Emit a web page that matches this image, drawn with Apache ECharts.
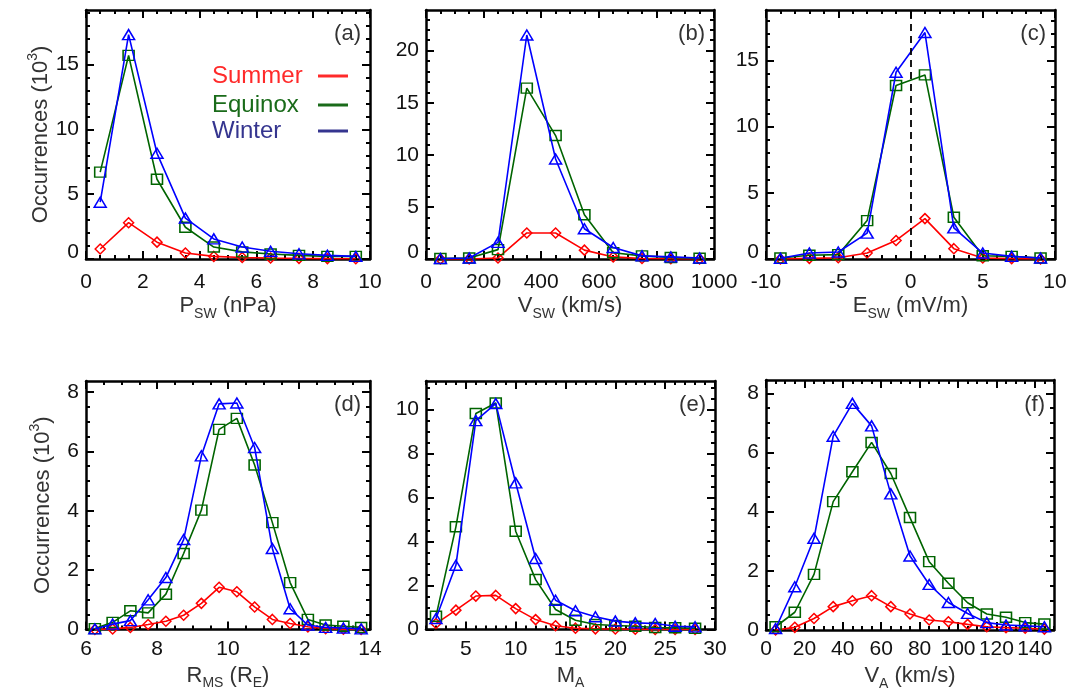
<!DOCTYPE html>
<html><head><meta charset="utf-8">
<script src="https://cdn.jsdelivr.net/npm/echarts@6/dist/echarts.min.js"></script>
<style>html,body{margin:0;padding:0;background:#fff}#c{width:1081px;height:696px}</style>
</head><body><div id="c"></div>
<script>
// ---------------- DATA ----------------
const seriesNames = ['Summer', 'Equinox', 'Winter'];

const pswX = [0.5, 1.5, 2.5, 3.5, 4.5, 5.5, 6.5, 7.5, 8.5, 9.5];
const pswSummer  = [0.77, 2.8, 1.3, 0.46, 0.2, 0.12, 0.08, 0.05, 0.03, 0.02];
const pswEquinox = [6.7, 15.7, 6.15, 2.45, 0.92, 0.55, 0.38, 0.28, 0.2, 0.2];
const pswWinter  = [4.38, 17.3, 8.15, 3.15, 1.55, 0.92, 0.6, 0.4, 0.28, 0.2];

const vswX = [50, 150, 250, 350, 450, 550, 650, 750, 850, 950];
const vswSummer  = [0, 0, 0.1, 2.5, 2.5, 0.85, 0.2, 0.05, 0.02, 0];
const vswEquinox = [0.05, 0.1, 0.9, 16.4, 11.85, 4.25, 0.6, 0.3, 0.15, 0.08];
const vswWinter  = [0.05, 0.1, 1.6, 21.5, 9.6, 2.9, 1.1, 0.3, 0.2, 0.1];

const eswX = [-9, -7, -5, -3, -1, 1, 3, 5, 7, 9];
const eswSummer  = [0, 0.05, 0.1, 0.45, 1.4, 3.05, 0.78, 0.08, 0.03, 0];
const eswEquinox = [0.08, 0.28, 0.33, 2.9, 13.1, 13.9, 3.15, 0.25, 0.2, 0.08];
const eswWinter  = [0.05, 0.45, 0.53, 1.95, 14.1, 17.1, 2.35, 0.45, 0.2, 0.08];

const rmsX = [6.25, 6.75, 7.25, 7.75, 8.25, 8.75, 9.25, 9.75, 10.25, 10.75, 11.25, 11.75, 12.25, 12.75, 13.25, 13.75];
const rmsSummer  = [0, 0.02, 0.07, 0.17, 0.28, 0.48, 0.88, 1.42, 1.27, 0.76, 0.34, 0.2, 0.09, 0.03, 0.01, 0];
const rmsEquinox = [0.03, 0.24, 0.63, 0.56, 1.19, 2.56, 4.02, 6.74, 7.11, 5.54, 3.6, 1.58, 0.34, 0.15, 0.11, 0.07];
const rmsWinter  = [0.02, 0.18, 0.3, 1.0, 1.75, 3.03, 5.85, 7.6, 7.63, 6.13, 2.73, 0.7, 0.15, 0.07, 0.05, 0.02];

const maX = [2, 4, 6, 8, 10, 12, 14, 16, 18, 20, 22, 24, 26, 28];
const maSummer  = [0.27, 0.88, 1.52, 1.55, 0.95, 0.45, 0.17, 0.06, 0.03, 0.02, 0.01, 0, 0, 0];
const maEquinox = [0.6, 4.67, 9.82, 10.3, 4.47, 2.27, 0.91, 0.42, 0.23, 0.18, 0.15, 0.09, 0.08, 0.06];
const maWinter  = [0.5, 2.92, 9.5, 10.27, 6.67, 3.23, 1.33, 0.85, 0.58, 0.38, 0.3, 0.27, 0.15, 0.12];

const vaX = [5, 15, 25, 35, 45, 55, 65, 75, 85, 95, 105, 115, 125, 135, 145];
const vaSummer  = [0, 0.09, 0.39, 0.79, 0.99, 1.16, 0.79, 0.54, 0.34, 0.28, 0.19, 0.11, 0.08, 0.06, 0.03];
const vaEquinox = [0.11, 0.6, 1.88, 4.34, 5.35, 6.34, 5.29, 3.8, 2.31, 1.58, 0.92, 0.54, 0.43, 0.25, 0.2];
const vaWinter  = [0.05, 1.46, 3.1, 6.55, 7.66, 6.9, 4.6, 2.5, 1.54, 0.93, 0.56, 0.25, 0.17, 0.14, 0.11];

// tick labels
const pswTicks = [0, 2, 4, 6, 8, 10];
const vswTicks = [0, 200, 400, 600, 800, 1000];
const eswTicks = [-10, -5, 0, 5, 10];
const rmsTicks = [6, 8, 10, 12, 14];
const maTicks  = [5, 10, 15, 20, 25, 30];
const vaTicks  = [0, 20, 40, 60, 80, 100, 120, 140];
const occTicksTop = [0, 5, 10, 15];
const occTicksB   = [0, 5, 10, 15, 20];
const occTicksBot = [0, 2, 4, 6, 8];
const occTicksE   = [0, 2, 4, 6, 8, 10];

// ---------------- LAYOUT / STYLE ----------------
const FONT = '"Liberation Sans", Arial, Helvetica, sans-serif';
const TICK_FS = 21;
const colors = { Summer: '#ff0000', Equinox: '#006400', Winter: '#0000ff' };
const symbols = { Summer: ['diamond', [10, 10]], Equinox: ['rect', [11, 10]], Winter: ['triangle', [12, 10]] };
const legendColors = { Summer: '#ff2a2a', Equinox: '#1a6b1a', Winter: '#35358f' };

const panels = [
  { tag: '(a)', grid: { left: 86, top: 10, width: 284, height: 249 }, xMin: 0, xMax: 10, xMajor: pswTicks, xMinor: 0.5,
    yMax: 19.2, yMajor: occTicksTop, yMinor: 1, row: 0, yName: true,
    xName: '{t|P}{s|SW}{t| (nPa)}', x: pswX, d: [pswSummer, pswEquinox, pswWinter] },
  { tag: '(b)', grid: { left: 426, top: 10, width: 288, height: 249 }, xMin: 0, xMax: 1000, xMajor: vswTicks, xMinor: 50,
    yMax: 23.9, yMajor: occTicksB, yMinor: 1, row: 0,
    xName: '{t|V}{s|SW}{t| (km/s)}', x: vswX, d: [vswSummer, vswEquinox, vswWinter] },
  { tag: '(c)', grid: { left: 766, top: 10, width: 289, height: 249 }, xMin: -10, xMax: 10, xMajor: eswTicks, xMinor: 1,
    yMax: 18.8, yMajor: occTicksTop, yMinor: 1, row: 0, zeroLine: true,
    xName: '{t|E}{s|SW}{t| (mV/m)}', x: eswX, d: [eswSummer, eswEquinox, eswWinter] },
  { tag: '(d)', grid: { left: 86, top: 381, width: 284, height: 248.5 }, xMin: 6, xMax: 14, xMajor: rmsTicks, xMinor: 0.5,
    yMax: 8.37, yMajor: occTicksBot, yMinor: 0.5, row: 1, yName: true,
    xName: '{t|R}{s|MS}{t| (R}{s|E}{t|)}', x: rmsX, d: [rmsSummer, rmsEquinox, rmsWinter] },
  { tag: '(e)', grid: { left: 426, top: 381, width: 289, height: 248.5 }, xMin: 1, xMax: 30, xMajor: maTicks, xMinor: 1,
    yMax: 11.3, yMajor: occTicksE, yMinor: 0.5, row: 1,
    xName: '{t|M}{s|A}', x: maX, d: [maSummer, maEquinox, maWinter] },
  { tag: '(f)', grid: { left: 766, top: 380, width: 288, height: 250 }, xMin: 0, xMax: 150, xMajor: vaTicks, xMinor: 5,
    yMax: 8.45, yMajor: occTicksBot, yMinor: 0.5, row: 1,
    xName: '{t|V}{s|A}{t| (km/s)}', x: vaX, d: [vaSummer, vaEquinox, vaWinter] }
];

function steps(min, max, step) {
  const out = [];
  const start = Math.ceil(min / step - 1e-9) * step;
  for (let v = start; v <= max + 1e-9; v += step) out.push(Math.round(v * 1000) / 1000);
  return out;
}

const nameRich = {
  t: { fontSize: 22, lineHeight: 30, color: '#333', fontFamily: FONT },
  s: { fontSize: 14, lineHeight: 12, color: '#333', fontFamily: FONT, verticalAlign: 'bottom' },
  u: { fontSize: 14, lineHeight: 12, color: '#333', fontFamily: FONT, verticalAlign: 'top' }
};

const grids = [], xAxes = [], yAxes = [], series = [], graphics = [];

panels.forEach((p, i) => {
  grids.push(Object.assign({ containLabel: false }, p.grid));
  const lineStyle = { color: '#000', width: 2.5 };
  const majorTick = { show: true, inside: true, length: 8, lineStyle: { color: '#000', width: 2 } };
  const minorTick = { show: true, inside: true, length: 4, lineStyle: { color: '#000', width: 2 } };
  const xMinorVals = steps(p.xMin, p.xMax, p.xMinor);
  const yMinorVals = steps(0, p.yMax, p.yMinor);
  const base = { gridIndex: i, type: 'value', splitLine: { show: false }, scale: false };
  const xb = Object.assign({}, base, { min: p.xMin, max: p.xMax });
  const yb = Object.assign({}, base, { min: 0, max: p.yMax });

  // x axes: bottom main (with labels), bottom minor, top main, top minor
  xAxes.push(Object.assign({}, xb, {
    position: 'bottom',
    axisLine: { show: true, onZero: false, lineStyle },
    axisTick: Object.assign({}, majorTick, { customValues: p.xMajor }),
    axisLabel: { show: true, customValues: p.xMajor, fontSize: TICK_FS, color: '#111', fontFamily: FONT,
                 margin: p.row === 0 ? 13 : 9, formatter: (v) => String(v) },
    name: p.xName, nameLocation: 'middle', nameGap: p.row === 0 ? 32 : 31,
    nameTextStyle: { rich: nameRich }
  }));
  xAxes.push(Object.assign({}, xb, {
    position: 'bottom', axisLine: { show: false, onZero: false },
    axisTick: Object.assign({}, minorTick, { customValues: xMinorVals }), axisLabel: { show: false }
  }));
  xAxes.push(Object.assign({}, xb, {
    position: 'top', axisLine: { show: true, onZero: false, lineStyle },
    axisTick: Object.assign({}, majorTick, { customValues: p.xMajor }), axisLabel: { show: false }
  }));
  xAxes.push(Object.assign({}, xb, {
    position: 'top', axisLine: { show: false, onZero: false },
    axisTick: Object.assign({}, minorTick, { customValues: xMinorVals }), axisLabel: { show: false }
  }));

  // y axes
  const yMain = Object.assign({}, yb, {
    position: 'left',
    axisLine: { show: true, onZero: false, lineStyle },
    axisTick: Object.assign({}, majorTick, { customValues: p.yMajor }),
    axisLabel: { show: true, customValues: p.yMajor, fontSize: TICK_FS, color: '#111', fontFamily: FONT, margin: 7,
      formatter: (v) => (v === 0 && p.row === 0) ? '{z|0}' : String(v),
      rich: { z: { fontSize: TICK_FS, color: '#111', fontFamily: FONT, padding: [0, 0, 14, 0] } } }
  });
  if (p.yName) {
    Object.assign(yMain, {
      name: '{t|Occurrences (10}{u|3}{t|)}', nameLocation: 'middle', nameRotate: 90, nameGap: 28,
      nameTextStyle: { rich: nameRich }
    });
  }
  yAxes.push(yMain);
  yAxes.push(Object.assign({}, yb, {
    position: 'left', axisLine: { show: false, onZero: false },
    axisTick: Object.assign({}, minorTick, { customValues: yMinorVals }), axisLabel: { show: false }
  }));
  yAxes.push(Object.assign({}, yb, {
    position: 'right', axisLine: { show: true, onZero: false, lineStyle },
    axisTick: Object.assign({}, majorTick, { customValues: p.yMajor }), axisLabel: { show: false }
  }));
  yAxes.push(Object.assign({}, yb, {
    position: 'right', axisLine: { show: false, onZero: false },
    axisTick: Object.assign({}, minorTick, { customValues: yMinorVals }), axisLabel: { show: false }
  }));

  seriesNames.forEach((name, k) => {
    const c = colors[name];
    const s = {
      type: 'line', name: name + ' ' + p.tag, xAxisIndex: i * 4, yAxisIndex: i * 4,
      data: p.x.map((xv, j) => [xv, p.d[k][j]]),
      symbol: symbols[name][0], symbolSize: symbols[name][1],
      showSymbol: true, showAllSymbol: true,
      lineStyle: { color: c, width: 1.6 },
      itemStyle: { color: 'rgba(0,0,0,0)', borderColor: c, borderWidth: 1.5 },
      emphasis: { disabled: true }, silent: true, z: 2 + k, clip: true
    };
    if (p.zeroLine && k === 0) {
      s.markLine = {
        silent: true, symbol: 'none', label: { show: false },
        lineStyle: { color: '#000', width: 1.8, type: [7, 5] },
        data: [{ xAxis: 0 }]
      };
    }
    series.push(s);
  });

  graphics.push({
    type: 'text', silent: true,
    x: p.grid.left + p.grid.width - 9, y: p.row === 0 ? 34 : 405,
    style: { text: p.tag, align: 'right', verticalAlign: 'middle', fontSize: 22, fill: '#333', fontFamily: FONT }
  });
});

// in-plot legend of panel (a)
const legendY = [76, 105, 131];
seriesNames.forEach((name, k) => {
  graphics.push({
    type: 'text', silent: true, x: 212, y: legendY[k],
    style: { text: name, align: 'left', verticalAlign: 'middle', fontSize: 24, fill: legendColors[name], fontFamily: FONT }
  });
  graphics.push({
    type: 'line', silent: true,
    shape: { x1: 318, y1: legendY[k], x2: 348, y2: legendY[k] },
    style: { stroke: legendColors[name], lineWidth: 3 }
  });
});

const chart = echarts.init(document.getElementById('c'), null, { renderer: 'canvas' });
chart.setOption({
  backgroundColor: '#fff',
  animation: false,
  grid: grids,
  xAxis: xAxes,
  yAxis: yAxes,
  series: series,
  graphic: graphics
});
</script>
</body></html>
